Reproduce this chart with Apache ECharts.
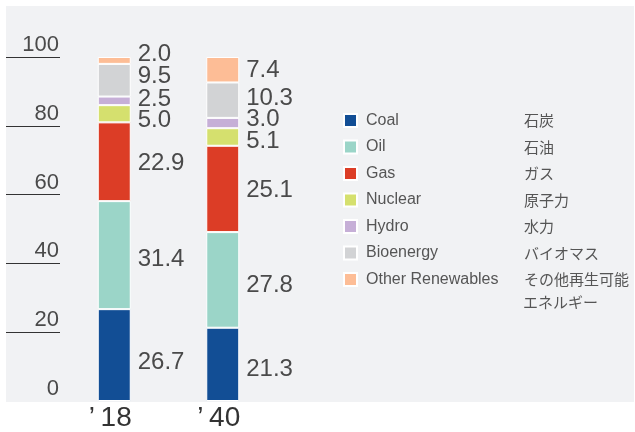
<!DOCTYPE html>
<html>
<head>
<meta charset="utf-8">
<script src="https://cdn.jsdelivr.net/npm/echarts@6/dist/echarts.min.js"></script>
<style>
  html, body { margin: 0; padding: 0; background: #fff; }
  #chart { width: 635px; height: 432px; }
</style>
</head>
<body>
<div id="chart"></div>
<script>
// data
const categories = ['’\u200918', '’\u200940'];
const seriesNames = ['Coal', 'Oil', 'Gas', 'Nuclear', 'Hydro', 'Bioenergy', 'Other Renewables'];
const jpNames = ['石炭', '石油', 'ガス', '原子力', '水力', 'バイオマス', 'その他再生可能\nエネルギー'];
const coal = [26.7, 21.3];
const oil = [31.4, 27.8];
const gas = [22.9, 25.1];
const nuclear = [5.0, 5.1];
const hydro = [2.5, 3.0];
const bioenergy = [9.5, 10.3];
const otherRenewables = [2.0, 7.4];
const yTicks = [0, 20, 40, 60, 80, 100];

const values = [coal, oil, gas, nuclear, hydro, bioenergy, otherRenewables];
const colors = ['#124e95', '#9bd5c8', '#dc3d26', '#d5e06e', '#c6afd7', '#d2d3d5', '#fdbd96'];
// vertical nudges for value labels ('18, '40), small segments pushed apart
const labelNudge = [[7, 5], [4, 5], [2, 1], [7, 4], [-1, -4], [-4, -2], [-6, 1]];

const chart = echarts.init(document.getElementById('chart'));

const series = seriesNames.map((name, i) => ({
  name: name,
  type: 'bar',
  stack: 'total',
  barWidth: 33,
  itemStyle: { color: colors[i], borderColor: '#fff', borderWidth: 1 },
  label: {
    show: true,
    position: 'right',
    distance: 7,
    fontFamily: 'Liberation Sans',
    fontSize: 24,
    color: '#4a4a4a',
    formatter: p => p.value.toFixed(1)
  },
  data: values[i].map((v, j) => ({
    value: v,
    label: { offset: [0, labelNudge[i][j]] }
  }))
}));

const option = {
  animation: false,
  backgroundColor: '#fff',
  graphic: [
    {
      type: 'rect',
      z: -10,
      shape: { x: 6, y: 6, width: 628, height: 396 },
      style: { fill: '#f1f2f4' }
    },
    {
      // second line of the last Japanese legend name
      type: 'text',
      style: {
        text: jpNames[6].split('\n')[1],
        x: 523, y: 302,
        verticalAlign: 'middle',
        font: '15px "Noto Sans CJK JP"',
        fill: '#555'
      }
    }
  ],
  legend: {
    orient: 'vertical',
    left: 343,
    top: 112.5,
    padding: 0,
    itemWidth: 13,
    itemHeight: 13,
    itemGap: 10.5,
    icon: 'rect',
    selectedMode: false,
    data: seriesNames,
    formatter: name => {
      const jp = jpNames[seriesNames.indexOf(name)].split('\n')[0];
      return '{en|' + name + '}{jp|' + jp + '}';
    },
    textStyle: {
      padding: [0, 0, 0, 4],
      rich: {
        en: { width: 158, fontFamily: 'Liberation Sans', fontSize: 16, lineHeight: 16, color: '#555' },
        jp: { fontFamily: 'Noto Sans CJK JP', fontSize: 15, lineHeight: 16, color: '#555' }
      }
    }
  },
  grid: { left: 60, width: 217, top: 57, bottom: 30 },
  xAxis: {
    type: 'category',
    data: categories,
    axisLine: { show: false },
    axisTick: { show: false },
    axisLabel: {
      margin: 3,
      padding: [0, 8, 0, 0],
      fontFamily: 'Liberation Sans',
      fontSize: 28,
      color: '#333'
    }
  },
  yAxis: {
    type: 'value',
    min: 0,
    max: 100,
    interval: 20,
    axisLine: { show: false },
    splitLine: { show: false },
    axisTick: {
      show: true,
      customValues: yTicks.slice(1),
      length: 54,
      lineStyle: { color: '#333', width: 1 }
    },
    axisLabel: {
      customValues: yTicks,
      margin: 1,
      verticalAlign: 'bottom',
      padding: [0, 0, 1, 0],
      fontFamily: 'Liberation Sans',
      fontSize: 22,
      color: '#4a4a4a'
    }
  },
  series: series
};

chart.setOption(option);
</script>
</body>
</html>
